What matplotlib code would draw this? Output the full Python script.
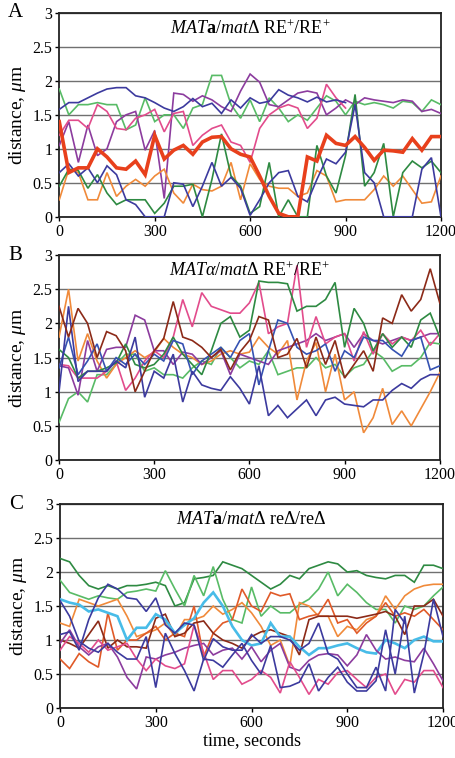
import numpy as np
import matplotlib
matplotlib.use("Agg")
import matplotlib.pyplot as plt

plt.rcParams['font.family'] = ['Liberation Serif', 'DejaVu Serif']
plt.rcParams['mathtext.fontset'] = 'custom'
plt.rcParams['mathtext.rm'] = 'Liberation Serif'
plt.rcParams['mathtext.it'] = 'Liberation Serif:italic'
plt.rcParams['mathtext.bf'] = 'Liberation Serif:bold'

nan = np.nan
time_s = list(range(0, 1201, 30))
x_ticks = [0, 300, 600, 900, 1200]
y_ticks = [0, 0.5, 1, 1.5, 2, 2.5, 3]
y_tick_labels = ["0", "0.5", "1", "1.5", "2", "2.5", "3"]

# ---------------- Panel A ----------------
a_green_hi = [1.88, 1.5, 1.65, 1.65, 1.68, 1.65, 1.65, 1.28, 1.35, 1.75, 1.4, 1.5, 1.5, 1.3, 1.6, 1.65, 2.08, 2.08, 1.65, 1.45,
              1.72, 1.4, 1.75, 1.6, 1.4, 1.5, 1.42, 1.6, 1.78, 1.7, 1.5, 1.7, 1.65, 1.68, 1.65, 1.6, 1.7, 1.68, 1.55, 1.72, 1.65]
a_purple = [1.05, 1.4, 0.8, 1.35, 0.9, 1.0, 1.4, 1.5, 1.55, 0.98, 1.27, 0.27, 1.82, 1.8, 1.7, 1.78, 1.72, 1.62, 1.55, 1.85,
            2.1, 1.98, 1.65, 1.62, 1.72, 1.82, 1.85, 1.82, 1.5, 1.6, 1.72, 1.65, 1.75, 1.72, 1.7, 1.68, 1.72, 1.7, 1.55, 1.58, 1.52]
a_pink = [1.2, 1.42, 1.42, 1.3, 1.65, 1.55, 1.3, 1.28, 1.45, 1.5, 1.58, 1.25, 1.52, 1.55, 1.05, 1.2, 1.3, 1.35, 1.1, 1.05,
          0.8, 1.3, 1.5, 1.6, 1.65, 1.6, 1.3, 1.45, 1.95, 1.75, 1.6, nan, nan, nan, nan, nan, nan, nan, nan, nan, nan]
a_navy_hi = [1.58, 1.68, 1.68, 1.75, 1.82, 1.88, 1.9, 1.9, 1.78, 1.75, 1.68, 1.6, 1.55, 1.62, 1.74, 1.62, 1.67, 1.52, 1.72, 1.6,
             1.75, 1.67, 1.7, 1.87, 1.79, 1.75, 1.69, 1.76, 1.69, 1.72, 1.68, nan, nan, nan, nan, nan, nan, nan, nan, nan, nan]
a_navy_lo = [0.65, 0.78, 0.6, 0.72, 0.5, 0.75, 0.62, 0.25, 0.18, 0.0, 0.0, 0.0, 0.5, 0.48, 0.15, 0.45, 0.8, 0.45, 0.58, 0.42,
             0.02, 0.25, 0.5, 0.65, 0.68, 0.3, 0.22, 0.55, 0.85, 0.78, 0.95, 1.65, 0.65, 0.5, 0.0, 0.0, 0.0, 0.0, 0.7, 0.87, 0.0]
a_orange = [0.25, 0.7, 0.65, 0.25, 0.25, 0.65, 0.3, 0.45, 0.55, 0.45, 0.6, 0.7, 0.35, 0.2, 0.48, 0.4, 0.38, 0.45, 0.8, 0.25,
            0.78, 0.55, 0.45, 0.42, 0.42, 0.3, 0.35, 0.68, 0.6, 0.22, 0.25, 0.25, 0.25, 0.4, 0.6, 0.45, 0.6, 0.4, 0.2, 0.22, 0.6]
a_green_lo = [0.45, 0.7, 0.68, 0.42, 0.62, 0.35, 0.18, 0.25, 0.25, 0.25, 0.05, 0.2, 0.45, 0.45, 0.48, 0.0, 0.55, 1.22, 0.6, 0.45,
              0.05, 0.15, 0.8, 0.0, 0.25, 0.0, 0.0, 1.05, 0.6, 0.35, 0.9, 1.8, 0.45, 0.65, 1.08, 0.0, 0.65, 0.82, 0.72, 0.82, 0.65]
a_red = [1.4, 0.65, 0.72, 0.72, 1.0, 0.88, 0.72, 0.7, 0.82, 0.62, 1.2, 0.85, 0.98, 1.05, 0.92, 1.1, 1.17, 1.18, 1.0, 0.92,
         0.88, 0.6, 0.3, 0.05, 0.0, 0.0, 0.88, 0.82, 1.2, 1.08, 1.05, 1.18, 1.02, 0.83, 0.98, 0.97, 0.95, 1.15, 0.98, 1.18, 1.18]

# ---------------- Panel B ----------------
b_brown = [2.25, 1.8, 2.22, 2.0, 1.5, 1.88, 1.82, 1.6, 1.0, 1.3, 1.6, 1.78, 2.32, 1.8, 1.75, 1.65, 1.5, 1.62, 1.32, 1.58,
           1.75, 2.1, 2.05, 1.5, 1.55, 1.78, 1.35, 1.8, 1.4, 1.75, 1.2, 1.4, 1.6, 1.3, 2.08, 2.0, 2.42, 2.18, 2.35, 2.8, 2.3]
b_pink = [1.4, 1.38, 1.2, 1.2, 1.2, 1.3, 1.45, 1.02, 1.2, 1.45, 1.6, 1.5, 1.8, 2.35, 1.95, 2.45, 2.25, 2.2, 2.15, 2.15,
          2.3, 2.6, 1.85, 1.95, 2.0, 2.85, 1.65, 2.1, 1.7, 1.8, 1.85, 1.45, 1.88, 1.55, 1.85, 1.7, 1.8, 1.75, 1.9, 1.68, 1.85]
b_green = [1.62, 1.5, 1.2, 1.3, 1.3, 1.35, 1.42, 1.7, 1.4, 1.35, 1.4, 1.55, 1.8, 1.55, 1.4, 1.25, 1.6, 2.0, 2.1, 1.8,
           1.9, 2.62, 2.6, 2.6, 2.58, 2.18, 2.25, 2.25, 2.35, 2.6, 1.65, 2.22, 2.0, 1.6, 1.85, 1.65, 1.8, 1.65, 2.05, 2.15, 1.8]
b_green_lt = [0.55, 0.9, 1.0, 0.85, 1.25, 1.25, 1.4, 1.55, 1.55, 1.3, 1.35, 1.25, 1.25, 1.2, 1.35, 1.45, 1.4, 1.65, 1.5, 1.35,
              1.45, 1.4, 1.6, 1.25, 1.3, 1.35, 1.35, 1.5, 1.35, 1.4, 1.22, 1.35, 1.4, 1.6, 1.5, 1.3, 1.38, 1.38, 1.5, 1.72, 1.7]
b_orange = [1.8, 2.5, 1.45, 1.85, 1.45, 1.2, 1.4, 1.5, 1.6, 1.5, 1.58, 1.78, 1.65, 1.55, 1.5, 1.4, 1.45, 1.55, 1.6, 1.55,
            1.58, 1.8, 1.65, 1.55, 1.75, 0.88, 1.45, 1.72, 1.0, 1.55, 0.88, 1.0, 0.4, 0.62, 1.05, 0.52, 0.72, 0.5, 0.75, 1.0, 1.28]
b_purple = [1.38, 1.35, 0.95, 1.75, 1.3, 1.62, 1.65, 1.65, 2.12, 2.05, 1.6, 1.6, 1.4, 1.58, 1.55, 1.4, 1.5, 1.6, 1.25, 1.55,
            1.5, 1.45, 1.4, 1.6, 1.65, 1.7, 1.75, 1.85, 1.75, 1.8, 1.85, 1.65, 1.85, 1.75, 1.7, 1.75, 1.8, 1.75, 1.8, 1.85, 1.85]
b_navy = [1.0, 2.25, 1.15, 1.3, 1.3, 1.3, 1.45, 1.35, 1.8, 0.92, 1.3, 1.2, 1.55, 0.85, 1.3, 1.1, 1.05, 1.02, 1.22, 1.05,
          0.82, 1.38, 0.65, 0.8, 0.62, 0.75, 0.88, 0.65, 0.88, 0.92, 0.82, 0.8, 0.78, 0.88, 0.88, 1.02, 1.12, 1.05, 1.18, 1.25, 1.25]
b_blue = [1.35, 1.8, 1.25, 1.45, 1.7, 1.3, 1.5, 1.4, 1.55, 1.4, 1.55, 1.45, 1.75, 1.7, 1.25, 1.45, 1.55, 1.65, 1.5, 1.75,
          1.85, 1.1, 1.6, 2.05, 2.0, 1.65, 1.55, 1.6, 1.7, 1.3, 1.6, 1.5, 1.8, 1.75, 1.75, 1.62, 1.52, 1.75, 1.8, 1.32, 1.38]

# ---------------- Panel C ----------------
c_green_dk = [2.2, 2.15, 1.95, 1.8, 1.75, 1.8, 1.75, 1.8, 1.8, 1.82, 1.85, 1.8, 1.5, 1.55, 1.9, 1.92, 1.95, 2.15, 2.1, 2.05,
              1.95, 1.85, 1.75, 1.82, 1.95, 1.9, 2.05, 2.1, 2.15, 2.12, 2.0, 2.02, 1.95, 1.92, 1.9, 1.95, 1.95, 1.85, 2.1, 2.1, 2.05]
c_green_lt = [1.88, 1.7, 1.65, 1.6, 1.65, 1.62, 1.6, 1.7, 1.72, 1.75, 1.72, 2.02, 1.75, 1.5, 1.95, 1.65, 2.08, 1.6, 1.3, 1.25,
              1.78, 1.35, 1.5, 1.4, 1.4, 1.52, 1.6, 1.75, 2.0, 1.65, 1.82, 1.7, 1.55, 1.45, 1.45, 1.25, 1.5, 1.45, 1.5, 1.65, 1.78]
c_orange = [1.25, 1.2, 1.6, 1.55, 1.5, 1.55, 1.6, 1.35, 1.05, 1.1, 1.15, 1.25, 1.05, 1.3, 1.3, 1.35, 1.5, 1.38, 1.45, 1.55,
            1.4, 1.2, 0.92, 1.0, 0.62, 1.55, 1.5, 1.35, 1.35, 1.05, 1.2, 1.15, 1.3, 1.35, 1.65, 1.45, 1.65, 1.75, 1.8, 1.82, 1.82]
c_redorange = [0.72, 0.58, 0.8, 0.68, 0.6, 1.4, 0.85, 1.0, 1.0, 1.1, 1.2, 1.0, 1.1, 1.05, 1.5, 0.75, 1.1, 1.25, 1.3, 1.75,
               1.5, 1.42, 1.7, 1.65, 1.68, 1.3, 1.35, 1.38, 1.6, 1.25, 1.3, 1.1, 1.25, 1.35, 1.55, 1.35, 1.4, 1.35, 1.45, 1.3, 1.15]
c_brown = [1.0, 0.95, 0.88, 1.08, 1.28, 0.88, 1.0, 0.9, 0.9, 0.88, 1.32, 1.38, 1.05, 1.1, 1.25, 1.28, 1.1, 1.0, 0.95, 0.88,
           1.05, 1.12, 1.15, 1.1, 1.05, 0.78, 1.3, 1.35, 1.35, 1.35, 1.35, 1.32, 1.35, 1.38, 1.42, 1.35, 1.08, 1.5, 1.5, 1.6, 1.35]
c_cyan = [1.6, 1.55, 1.52, 1.42, 1.45, 1.4, 1.35, 1.0, 1.18, 1.18, 1.38, 1.3, 1.1, 1.22, 1.32, 1.55, 1.7, 1.5, 1.2, 1.0,
          0.92, 0.95, 1.25, 1.05, 1.05, 0.9, 0.78, 0.88, 0.88, 0.92, 0.95, 0.88, 0.82, 0.8, 1.0, 0.95, 0.88, 1.0, 1.05, 0.98, 0.98]
c_navy1 = [1.08, 1.12, 0.85, 1.3, 1.62, 1.82, 1.75, 1.62, 1.6, 1.42, 1.62, 1.22, 1.1, 1.25, 1.22, 0.7, 1.02, 0.9, 0.85, 0.85,
           1.08, 0.95, 1.05, 1.05, 1.0, 0.85, 0.95, 1.25, 0.8, 0.72, 0.5, 0.3, 0.3, 0.6, 0.25, 1.45, 1.25, nan, nan, nan, nan]
c_navy2 = [1.58, 1.35, 0.98, 0.88, 0.82, 0.95, 0.82, 0.72, 0.72, 1.05, 0.3, 1.1, 0.8, 0.55, 0.25, 0.72, 0.7, 0.6, 0.78, 0.95,
           0.7, 0.5, 0.92, 0.3, 0.32, 0.38, 0.65, 0.25, 0.45, 0.6, 0.38, 0.25, 0.25, 0.4, 1.15, 0.5, 1.35, 0.22, 0.8, 1.6, 1.05]
c_purple = [0.95, 1.15, 0.9, 0.78, 0.9, 0.95, 0.75, 0.45, 0.28, 0.75, 0.72, 0.78, 0.82, 0.88, 0.92, 0.95, 0.78, 0.85, 0.88, 0.72,
            0.9, 0.68, 0.85, 0.95, 0.6, 0.55, 0.7, 0.78, 0.8, 0.78, 0.62, 0.78, 1.08, 0.85, 0.72, 0.75, 0.7, 0.68, 0.88, 0.65, 0.4]
c_pink = [0.85, 1.05, 0.95, 0.82, 1.0, 0.85, 0.9, 0.95, 0.72, 0.55, 0.72, 0.62, 0.58, 0.65, 1.22, 0.82, 0.42, 0.55, 0.55, 0.35,
          0.42, 0.55, 0.45, 0.22, 0.68, 0.45, 0.2, 0.42, 0.35, 0.52, 0.55, 0.42, 0.3, 0.45, 0.5, 0.2, 0.42, 0.38, 0.55, 0.55, 0.3]

RED = '#e8401c'; NAVY = '#3c3a9e'; GREEN_LT = '#58bb66'; GREEN_DK = '#2e8a42'
PURPLE = '#8c3c9e'; PINK = '#e24c8c'; ORANGE = '#f08a3a'; BROWN = '#8c2a18'
BLUE = '#3552b2'; CYAN = '#48bce8'; REDOR = '#e05a28'

panels = [
    ("A", [0.130, 0.714, 0.837, 0.269],
     r'$\mathit{MAT}\mathbf{a}/\mathit{mat}\Delta\ \mathrm{RE}^{+}/\mathrm{RE}^{+}$',
     [(a_green_hi, GREEN_LT, 1.2), (a_purple, PURPLE, 1.2), (a_pink, PINK, 1.2), (a_navy_hi, NAVY, 1.2),
      (a_orange, ORANGE, 1.2), (a_green_lo, GREEN_DK, 1.2), (a_navy_lo, NAVY, 1.2), (a_red, RED, 2.6)]),
    ("B", [0.1294, 0.393, 0.835, 0.2705],
     r'$\mathit{MAT\alpha}/\mathit{mat}\Delta\ \mathrm{RE}^{+}/\mathrm{RE}^{+}$',
     [(b_green_lt, GREEN_LT, 1.2), (b_orange, ORANGE, 1.2), (b_purple, PURPLE, 1.2), (b_pink, PINK, 1.2),
      (b_green, GREEN_DK, 1.2), (b_blue, BLUE, 1.2), (b_navy, NAVY, 1.2), (b_brown, BROWN, 1.2)]),
    ("C", [0.1316, 0.066, 0.840, 0.269],
     r'$\mathit{MAT}\mathbf{a}/\mathit{mat}\Delta\ \mathrm{re}\Delta/\mathrm{re}\Delta$',
     [(c_green_dk, GREEN_DK, 1.2), (c_green_lt, GREEN_LT, 1.2), (c_orange, ORANGE, 1.2), (c_redorange, REDOR, 1.2),
      (c_brown, BROWN, 1.2), (c_cyan, CYAN, 1.9), (c_purple, PURPLE, 1.2), (c_pink, PINK, 1.2),
      (c_navy2, NAVY, 1.2), (c_navy1, NAVY, 1.2)]),
]

fig = plt.figure(figsize=(4.56, 7.58), dpi=100)
for letter, rect, title, series in panels:
    ax = fig.add_axes(rect)
    for vals, col, lw in series:
        ax.plot(time_s, vals, color=col, lw=lw, solid_joinstyle='miter', zorder=3)
    ax.set_xlim(0, 1200)
    ax.set_ylim(0, 3)
    ax.set_xticks(x_ticks)
    ax.set_yticks(y_ticks)
    ax.set_yticklabels(y_tick_labels)
    ax.tick_params(axis='both', labelsize=11.5, direction='out', length=3, width=1, pad=2)
    ax.yaxis.grid(True, color='#707070', lw=1.0, zorder=1)
    ax.set_axisbelow(True)
    for s in ax.spines.values():
        s.set_linewidth(1.3)
        s.set_color('#222222')
    ax.set_ylabel(r'distance, $\mathit{\mu}$m', fontsize=14, labelpad=3)
    ax.text(0.5, 0.925, title, transform=ax.transAxes, ha='center', va='center', fontsize=13, zorder=5)
    ax.text(-0.115, 1.0, letter, transform=ax.transAxes, ha='center', va='center', fontsize=15)
    if letter == "C":
        ax.set_xlabel('time, seconds', fontsize=13, labelpad=1)

fig.savefig('out.png', dpi=100)
